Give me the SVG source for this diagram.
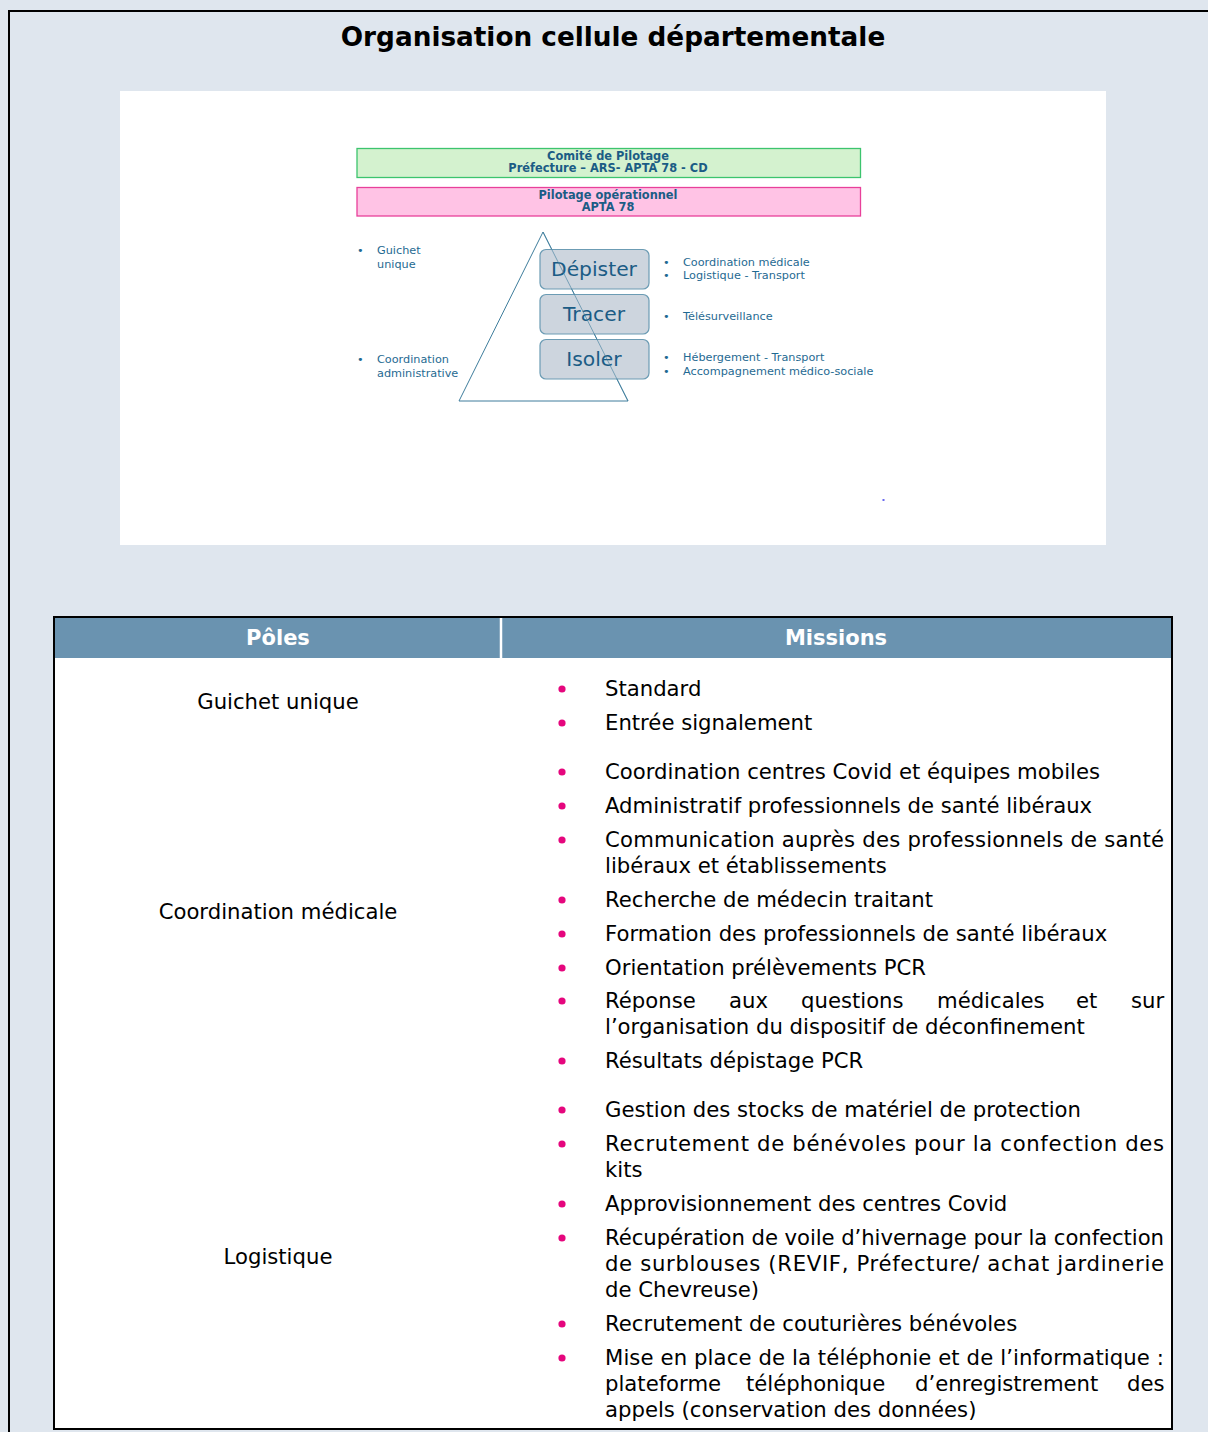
<svg xmlns="http://www.w3.org/2000/svg" width="1208" height="1432" viewBox="0 0 1208 1432">
  <style>
    .title { font-family: "DejaVu Sans", Verdana, sans-serif; font-weight: bold; font-size: 26.3px; fill: #000; }
    .hd { font-family: "DejaVu Sans", Verdana, sans-serif; font-weight: bold; font-size: 11.4px; fill: #1b5c85; }
    .step { font-family: "DejaVu Sans", Verdana, sans-serif; font-size: 20.3px; fill: #1b5c85; }
    .side { font-family: "DejaVu Sans", Verdana, sans-serif; font-size: 11.25px; fill: #1f6a92; }
    .box { fill: #cdd5de; stroke: #6c9cb4; stroke-width: 1.2; }
    .th { font-family: "DejaVu Sans", Verdana, sans-serif; font-weight: bold; font-size: 21px; fill: #ffffff; }
    .pole { font-family: "DejaVu Sans", Verdana, sans-serif; font-size: 21.2px; fill: #000; }
    .item { font-family: "DejaVu Sans", Verdana, sans-serif; font-size: 21.2px; fill: #000; }
    .dot { fill: #e5067d; }
  </style>

  <!-- page background and frame -->
  <rect x="0" y="0" width="1208" height="1432" fill="#dfe6ee"/>
  <path d="M9 1432 V11 H1208" fill="none" stroke="#000" stroke-width="2"/>

  <text class="title" x="613" y="46" text-anchor="middle">Organisation cellule départementale</text>

  <!-- organisation chart panel -->
  <rect x="120" y="91" width="986" height="454" fill="#ffffff"/>

  <g id="comite">
    <rect x="357" y="148.5" width="503.5" height="29" fill="#d4f2cf" stroke="#3cc46e" stroke-width="1.3"/>
    <text class="hd" x="608" y="159.5" text-anchor="middle">Comité de Pilotage</text>
    <text class="hd" x="608" y="172" text-anchor="middle">Préfecture – ARS- APTA 78 - CD</text>
  </g>

  <g id="pilotage">
    <rect x="357" y="187.5" width="503.5" height="28.5" fill="#ffc3e5" stroke="#e8409a" stroke-width="1.3"/>
    <text class="hd" x="608" y="198.5" text-anchor="middle">Pilotage opérationnel</text>
    <text class="hd" x="608" y="211" text-anchor="middle">APTA 78</text>
  </g>

  <g id="connectors">
    <!-- pyramid outline behind the steps -->
    <polygon points="543,232 459,401 628,401" fill="none" stroke="#3e7d9c" stroke-width="1"/>
  </g>

  <g id="depister">
    <rect class="box" x="540" y="249.5" width="109" height="39.5" rx="6"/>
    <text class="step" x="594" y="276" text-anchor="middle">Dépister</text>
  </g>
  <g id="tracer">
    <rect class="box" x="540" y="294.5" width="109" height="39.5" rx="6"/>
    <text class="step" x="594" y="321" text-anchor="middle">Tracer</text>
  </g>
  <g id="isoler">
    <rect class="box" x="540" y="339.5" width="109" height="39.5" rx="6"/>
    <text class="step" x="594" y="366" text-anchor="middle">Isoler</text>
  </g>

  <!-- pyramid edge shows faintly through the steps -->
  <line x1="543" y1="232" x2="628" y2="401" stroke="#3e7d9c" stroke-width="1" stroke-opacity="0.6"/>

  <g id="left-notes" class="side">
    <text x="357" y="254">•</text>
    <text x="377" y="254">Guichet</text>
    <text x="377" y="268">unique</text>
    <text x="357" y="363">•</text>
    <text x="377" y="363">Coordination</text>
    <text x="377" y="377">administrative</text>
  </g>

  <g id="right-notes" class="side">
    <text x="663" y="266">•</text>
    <text x="683" y="266">Coordination médicale</text>
    <text x="663" y="279">•</text>
    <text x="683" y="279">Logistique - Transport</text>
    <text x="663" y="320">•</text>
    <text x="683" y="320">Télésurveillance</text>
    <text x="663" y="361">•</text>
    <text x="683" y="361">Hébergement - Transport</text>
    <text x="663" y="375">•</text>
    <text x="683" y="375">Accompagnement médico-sociale</text>
  </g>

  <rect x="882.5" y="499" width="2" height="2" fill="#6a6af0"/>

  <!-- poles / missions table -->
  <g id="table">
    <rect x="54" y="617" width="1118" height="812" fill="#ffffff" stroke="#000" stroke-width="2"/>
    <rect x="55" y="618" width="1116" height="40" fill="#6a93b0"/>
    <line x1="501" y1="618" x2="501" y2="658" stroke="#ffffff" stroke-width="2.5"/>
    <text class="th" x="278" y="645" text-anchor="middle">Pôles</text>
    <text class="th" x="836" y="645" text-anchor="middle">Missions</text>

    <text class="pole" x="278" y="709" text-anchor="middle">Guichet unique</text>
    <text class="pole" x="278" y="919" text-anchor="middle">Coordination médicale</text>
    <text class="pole" x="278" y="1264" text-anchor="middle">Logistique</text>
  </g>

  <g id="missions" class="item">
    <g class="dot">
      <circle cx="562" cy="689" r="3.6"/>
      <circle cx="562" cy="723" r="3.6"/>
      <circle cx="562" cy="772" r="3.6"/>
      <circle cx="562" cy="806" r="3.6"/>
      <circle cx="562" cy="840" r="3.6"/>
      <circle cx="562" cy="900" r="3.6"/>
      <circle cx="562" cy="934" r="3.6"/>
      <circle cx="562" cy="968" r="3.6"/>
      <circle cx="562" cy="1001" r="3.6"/>
      <circle cx="562" cy="1061" r="3.6"/>
      <circle cx="562" cy="1110" r="3.6"/>
      <circle cx="562" cy="1144" r="3.6"/>
      <circle cx="562" cy="1204" r="3.6"/>
      <circle cx="562" cy="1238" r="3.6"/>
      <circle cx="562" cy="1324" r="3.6"/>
      <circle cx="562" cy="1358" r="3.6"/>
    </g>

    <text x="605" y="696">Standard</text>
    <text x="605" y="730">Entrée signalement</text>

    <text x="605" y="779">Coordination centres Covid et équipes mobiles</text>
    <text x="605" y="813">Administratif professionnels de santé libéraux</text>
    <text x="605" y="847" textLength="559" lengthAdjust="spacing">Communication auprès des professionnels de santé</text>
    <text x="605" y="873">libéraux et établissements</text>
    <text x="605" y="907">Recherche de médecin traitant</text>
    <text x="605" y="941">Formation des professionnels de santé libéraux</text>
    <text x="605" y="975">Orientation prélèvements PCR</text>
    <text y="1008"><tspan x="605">Réponse</tspan><tspan x="729">aux</tspan><tspan x="801">questions</tspan><tspan x="937">médicales</tspan><tspan x="1076">et</tspan><tspan x="1131">sur</tspan></text>
    <text x="605" y="1034">l’organisation du dispositif de déconfinement</text>
    <text x="605" y="1068">Résultats dépistage PCR</text>

    <text x="605" y="1117">Gestion des stocks de matériel de protection</text>
    <text x="605" y="1151" textLength="559" lengthAdjust="spacing">Recrutement de bénévoles pour la confection des</text>
    <text x="605" y="1177">kits</text>
    <text x="605" y="1211">Approvisionnement des centres Covid</text>
    <text x="605" y="1245" textLength="559" lengthAdjust="spacing">Récupération de voile d’hivernage pour la confection</text>
    <text x="605" y="1271" textLength="559" lengthAdjust="spacing">de surblouses (REVIF, Préfecture/ achat jardinerie</text>
    <text x="605" y="1297">de Chevreuse)</text>
    <text x="605" y="1331">Recrutement de couturières bénévoles</text>
    <text x="605" y="1365" textLength="559" lengthAdjust="spacing">Mise en place de la téléphonie et de l’informatique :</text>
    <text y="1391"><tspan x="605">plateforme</tspan><tspan x="746">téléphonique</tspan><tspan x="915">d’enregistrement</tspan><tspan x="1127">des</tspan></text>
    <text x="605" y="1417">appels (conservation des données)</text>
  </g>
</svg>
